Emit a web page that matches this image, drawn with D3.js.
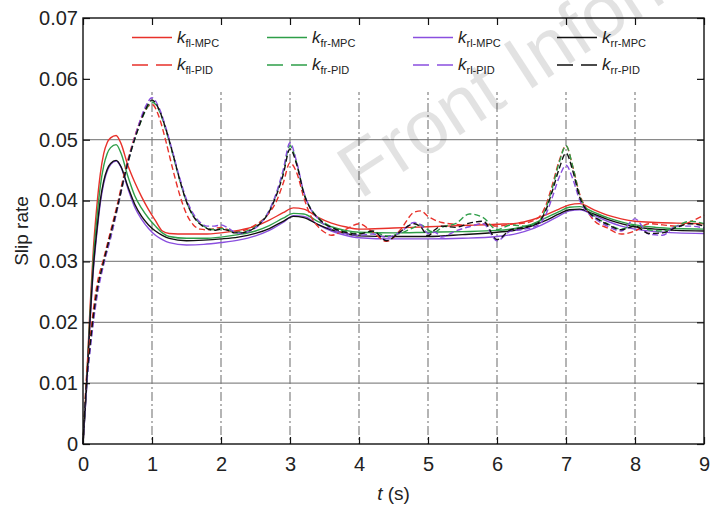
<!DOCTYPE html>
<html>
<head>
<meta charset="utf-8">
<script src="https://cdn.jsdelivr.net/npm/d3@7"></script>
<style>
  body { margin: 0; background: #fff; }
  text { font-family: "Liberation Sans", Arial, sans-serif; fill: #222; }
</style>
</head>
<body>
<div id="chart"></div>
<script>
// DATA: time grids and slip rate per wheel
const tMPC = [0, 0.05, 0.1, 0.15, 0.2, 0.25, 0.3, 0.35, 0.4, 0.48, 0.55, 0.65, 0.75, 0.85, 0.95, 1.05, 1.15, 1.25,
  1.5, 1.75, 2.0, 2.25, 2.5, 2.7, 2.9, 3.05, 3.2, 3.4, 3.6, 3.8, 4.0, 4.5, 5.0, 5.5, 6.0, 6.3, 6.5, 6.7, 6.9,
  7.05, 7.2, 7.4, 7.6, 7.8, 8.0, 8.3, 8.6, 9.0];

const flMPC = [0, 0.010, 0.022, 0.032, 0.039, 0.0443, 0.0477, 0.0495, 0.0503, 0.0507, 0.0494, 0.0458, 0.0430, 0.0406,
  0.0385, 0.0367, 0.0350, 0.0346, 0.0345, 0.0345, 0.0347, 0.0351, 0.0358, 0.0368, 0.0380, 0.0388, 0.0386, 0.0373,
  0.0363, 0.0357, 0.0353, 0.0355, 0.0357, 0.0359, 0.0361, 0.0363, 0.0368, 0.0376, 0.0386, 0.0393, 0.0395, 0.0385,
  0.0376, 0.0370, 0.0366, 0.0364, 0.0363, 0.0362];
const frMPC = [0, 0.0095, 0.021, 0.0305, 0.037, 0.0423, 0.0457, 0.0477, 0.0487, 0.0492, 0.0478, 0.0440, 0.0408, 0.0387,
  0.0371, 0.0358, 0.0347, 0.0341, 0.0338, 0.0338, 0.0340, 0.0344, 0.0350, 0.0359, 0.0371, 0.0379, 0.0378, 0.0366,
  0.0357, 0.0351, 0.0348, 0.0347, 0.0348, 0.0349, 0.0351, 0.0355, 0.0361, 0.0371, 0.0382, 0.0389, 0.0390, 0.0381,
  0.0372, 0.0365, 0.0360, 0.0356, 0.0354, 0.0353];
const rlMPC = [0, 0.0088, 0.0195, 0.0285, 0.0345, 0.0395, 0.0428, 0.0448, 0.0459, 0.0465, 0.0455, 0.0420, 0.0389, 0.0369,
  0.0354, 0.0343, 0.0336, 0.0331, 0.0327, 0.0328, 0.0331, 0.0335, 0.0342, 0.0351, 0.0364, 0.0375, 0.0374, 0.0361,
  0.0350, 0.0343, 0.0339, 0.0337, 0.0337, 0.0338, 0.0341, 0.0346, 0.0353, 0.0363, 0.0375, 0.0383, 0.0385, 0.0376,
  0.0366, 0.0358, 0.0353, 0.0349, 0.0347, 0.0346];
const rrMPC = [0, 0.009, 0.020, 0.029, 0.035, 0.040, 0.0432, 0.0451, 0.0461, 0.0466, 0.0456, 0.0423, 0.0394, 0.0374,
  0.0360, 0.0350, 0.0343, 0.0338, 0.0334, 0.0335, 0.0337, 0.0340, 0.0346, 0.0354, 0.0366, 0.0374, 0.0372, 0.0361,
  0.0352, 0.0346, 0.0342, 0.0341, 0.0341, 0.0344, 0.0348, 0.0352, 0.0358, 0.0367, 0.0378, 0.0385, 0.0386, 0.0378,
  0.0369, 0.0362, 0.0357, 0.0353, 0.0351, 0.0350];

const tPID = [0, 0.05, 0.1, 0.2, 0.3, 0.4, 0.5, 0.6, 0.7, 0.8, 0.9, 1.0, 1.1, 1.2, 1.3, 1.4, 1.5, 1.6, 1.7, 1.8,
  1.9, 2.0, 2.1, 2.2, 2.3, 2.4, 2.5, 2.6, 2.7, 2.8, 2.9, 3.0, 3.1, 3.2, 3.3, 3.4, 3.5, 3.6, 3.8, 4.0,
  4.2, 4.4, 4.6, 4.8, 4.9, 5.0, 5.1, 5.2, 5.4, 5.6, 5.8, 6.0, 6.2, 6.4, 6.6, 6.7, 6.8, 6.9, 7.0, 7.1,
  7.2, 7.3, 7.4, 7.6, 7.8, 8.0, 8.2, 8.4, 8.6, 8.8, 9.0];

const flPID = [0, 0.011, 0.017, 0.026, 0.0305, 0.035, 0.0395, 0.0445, 0.0487, 0.0522,
  0.0548, 0.0558, 0.0538, 0.0498, 0.0452, 0.0410, 0.0378, 0.0360, 0.0353, 0.0352,
  0.0354, 0.0356, 0.0352, 0.0349, 0.0350, 0.0354, 0.0360, 0.0368, 0.0380, 0.0398,
  0.0428, 0.0462, 0.0445, 0.0405, 0.0375, 0.0358, 0.0348, 0.0343, 0.0352, 0.0362,
  0.0348, 0.0333, 0.0352, 0.0381, 0.0383, 0.0374, 0.0368, 0.0364, 0.0361, 0.0359,
  0.0362, 0.0358, 0.0361, 0.0363, 0.0372, 0.0390, 0.0425, 0.0465, 0.0490, 0.0455,
  0.0410, 0.0385, 0.0368, 0.0355, 0.0345, 0.0350, 0.0362, 0.0360, 0.0358, 0.0365, 0.0376];
const frPID = [0, 0.0095, 0.0155, 0.0245, 0.0298, 0.034, 0.0388, 0.0438, 0.0482, 0.0518,
  0.0546, 0.0562, 0.0549, 0.0516, 0.0476, 0.0434, 0.0398, 0.0375, 0.0362, 0.0355,
  0.0352, 0.0354, 0.0352, 0.0348, 0.0348, 0.0351, 0.0357, 0.0367, 0.0384, 0.0410,
  0.0446, 0.0490, 0.0460, 0.0413, 0.0387, 0.0373, 0.0363, 0.0357, 0.0349, 0.0346,
  0.0349, 0.0342, 0.0346, 0.0356, 0.0360, 0.0352, 0.0348, 0.0356, 0.0362, 0.0378,
  0.0372, 0.0352, 0.0360, 0.0358, 0.0365, 0.0385, 0.0420, 0.0462, 0.0490, 0.0455,
  0.0408, 0.0386, 0.0375, 0.0362, 0.0353, 0.0360, 0.0352, 0.0350, 0.0358, 0.0366, 0.0362];
const rlPID = [0, 0.0092, 0.015, 0.024, 0.0295, 0.0338, 0.0387, 0.0438, 0.0484, 0.0522,
  0.0553, 0.0569, 0.0553, 0.0520, 0.0480, 0.0438, 0.0402, 0.0378, 0.0364, 0.0358,
  0.0358, 0.0360, 0.0355, 0.0348, 0.0346, 0.0349, 0.0355, 0.0366, 0.0384, 0.0412,
  0.0450, 0.0495, 0.0462, 0.0414, 0.0386, 0.0371, 0.0360, 0.0353, 0.0346, 0.0343,
  0.0345, 0.0340, 0.0348, 0.0364, 0.0360, 0.0346, 0.0348, 0.0340, 0.0350, 0.0357,
  0.0362, 0.0334, 0.0350, 0.0353, 0.0360, 0.0375, 0.0405, 0.0438, 0.0458, 0.0435,
  0.0400, 0.0382, 0.0372, 0.0358, 0.0350, 0.0370, 0.0345, 0.0343, 0.0358, 0.0358, 0.0355];
const rrPID = [0, 0.010, 0.016, 0.025, 0.030, 0.0345, 0.039, 0.044, 0.0483, 0.0518,
  0.0548, 0.0565, 0.0550, 0.0518, 0.0478, 0.0435, 0.0398, 0.0374, 0.0361, 0.0354,
  0.0351, 0.0353, 0.0351, 0.0347, 0.0347, 0.0350, 0.0356, 0.0366, 0.0382, 0.0408,
  0.0442, 0.0485, 0.0458, 0.0412, 0.0386, 0.0372, 0.0362, 0.0356, 0.0348, 0.0345,
  0.0350, 0.0334, 0.0349, 0.0362, 0.0356, 0.0342, 0.0352, 0.0358, 0.0356, 0.0363,
  0.0366, 0.0336, 0.0352, 0.0356, 0.0364, 0.0382, 0.0415, 0.0452, 0.0478, 0.0448,
  0.0405, 0.0384, 0.0374, 0.0361, 0.0352, 0.0358, 0.0346, 0.0347, 0.0356, 0.0362, 0.0358];

const wheels = ["fl", "fr", "rl", "rr"];
const wheelColors = ["#e8312a", "#2e9e48", "#8a4fdf", "#111111"];
const xTicks = [0, 1, 2, 3, 4, 5, 6, 7, 8, 9];
const yTicks = [0, 0.01, 0.02, 0.03, 0.04, 0.05, 0.06, 0.07];

// SETUP
const W = 711, H = 505;
const margin = { top: 18, right: 7, bottom: 61, left: 83 },
      width = W - margin.left - margin.right,
      height = H - margin.top - margin.bottom;

const svgRoot = d3.select("#chart").append("svg")
    .attr("width", W)
    .attr("height", H);

const svg = svgRoot.append("g")
    .attr("transform", `translate(${margin.left},${margin.top})`);

const x = d3.scaleLinear().domain([0, 9]).range([0, width]);
const y = d3.scaleLinear().domain([0, 0.07]).range([height, 0]);

// grid: solid horizontal, dash-dot vertical
svg.append("g").selectAll("line")
  .data(yTicks.slice(1, -1))
  .join("line")
    .attr("x1", 0).attr("x2", width)
    .attr("y1", d => y(d)).attr("y2", d => y(d))
    .attr("stroke", "#8a8a8a").attr("stroke-width", 1.2);

svg.append("g").selectAll("line")
  .data(xTicks.slice(1, -1))
  .join("line")
    .attr("x1", d => x(d)).attr("x2", d => x(d))
    .attr("y1", 0).attr("y2", height)
    .attr("stroke", "#777").attr("stroke-width", 1.1)
    .attr("stroke-dasharray", "9,3,2,3");

// series
const series = [];
wheels.forEach((w, i) => series.push({ name: w + "-MPC", color: wheelColors[i], dash: null,
  pts: tMPC.map((t, j) => [t, [flMPC, frMPC, rlMPC, rrMPC][i][j]]) }));
wheels.forEach((w, i) => series.push({ name: w + "-PID", color: wheelColors[i], dash: "6,3",
  pts: tPID.map((t, j) => [t, [flPID, frPID, rlPID, rrPID][i][j]]) }));

const line = d3.line()
    .x(d => x(d[0]))
    .y(d => y(d[1]))
    .curve(d3.curveMonotoneX);

svg.append("g").selectAll("path")
  .data(series)
  .join("path")
    .attr("d", d => line(d.pts))
    .attr("fill", "none")
    .attr("stroke", d => d.color)
    .attr("stroke-width", 1.4)
    .attr("stroke-dasharray", d => d.dash);

// legend sits on a white patch over the grid
svg.append("rect")
    .attr("x", 1).attr("y", 1)
    .attr("width", width - 2).attr("height", 73)
    .attr("fill", "#fff");

const colX = [49, 184, 330, 474];
const legend = svg.append("g").selectAll("g")
  .data(series)
  .join("g")
    .attr("transform", (d, i) => `translate(${colX[i % 4]},${i < 4 ? 19.5 : 47})`);

legend.append("line")
    .attr("x1", 0).attr("x2", 40)
    .attr("stroke", d => d.color)
    .attr("stroke-width", 1.5)
    .attr("stroke-dasharray", d => d.dash ? "16,8" : null);

const lt = legend.append("text")
    .attr("x", 45).attr("y", 5)
    .style("font-size", "17px");
lt.append("tspan").style("font-style", "italic").text("k");
lt.append("tspan").attr("dy", 4).style("font-size", "11px").text(d => d.name);

// axes with inward ticks on all four sides
const yAxis = svg.append("g")
    .call(d3.axisLeft(y).tickValues(yTicks).tickSizeInner(-7).tickSizeOuter(0).tickPadding(5)
      .tickFormat(d => d === 0 ? "0" : d3.format(".2f")(d)));
const xAxis = svg.append("g")
    .attr("transform", `translate(0,${height})`)
    .call(d3.axisBottom(x).tickValues(xTicks).tickSizeInner(-7).tickSizeOuter(0).tickPadding(13)
      .tickFormat(d3.format("d")));
svg.append("g").attr("transform", `translate(${width},0)`)
    .call(d3.axisRight(y).tickValues(yTicks).tickSizeInner(-7).tickSizeOuter(0).tickFormat(""));
svg.append("g")
    .call(d3.axisTop(x).tickValues(xTicks).tickSizeInner(-7).tickSizeOuter(0).tickFormat(""));

svg.selectAll(".domain").remove();
svg.selectAll(".tick line").attr("stroke", "#111").attr("stroke-width", 1.2);
[yAxis, xAxis].forEach(a => a.selectAll("text")
    .style("font-size", "20px")
    .style("font-family", "'Liberation Sans', Arial, sans-serif")
    .attr("fill", "#222"));

svg.append("rect")
    .attr("width", width).attr("height", height)
    .attr("fill", "none")
    .attr("stroke", "#111")
    .attr("stroke-width", 1.4);

// axis labels
const xl = svg.append("text")
    .attr("x", width / 2)
    .attr("y", height + 56)
    .attr("text-anchor", "middle")
    .style("font-size", "19px");
xl.append("tspan").style("font-style", "italic").text("t");
xl.append("tspan").text(" (s)");

svg.append("text")
    .attr("transform", "rotate(-90)")
    .attr("x", -height / 2)
    .attr("y", -margin.left + 28)
    .attr("text-anchor", "middle")
    .style("font-size", "19px")
    .text("Slip rate");

// faint watermark across the plot
svgRoot.append("text")
    .attr("transform", "translate(360,200) rotate(-33)")
    .style("font-size", "76px")
    .style("fill", "#000")
    .style("opacity", 0.11)
    .text("Front Inform");
</script>
</body>
</html>
